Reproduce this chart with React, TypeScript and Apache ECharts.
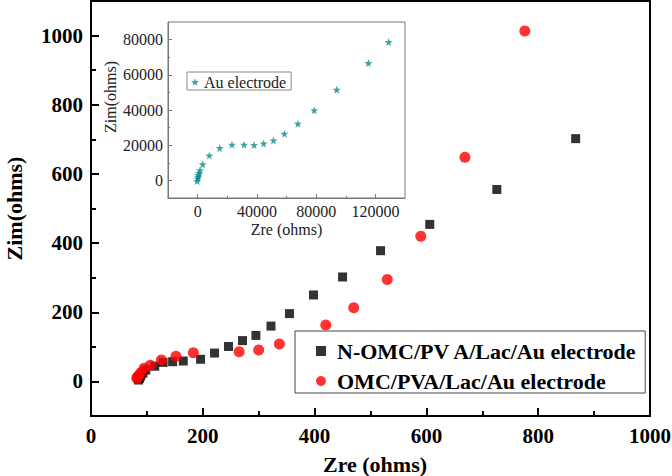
import React, { useEffect, useRef } from 'react';
import * as echarts from 'echarts';

// Main plot data (Zre, Zim in ohms)
const nomcZre = [85, 87, 89, 93, 98, 114, 129, 146, 165, 196, 221, 246, 271, 295, 322, 355, 398, 450, 518, 606, 726, 867];
const nomcZim = [4, 9, 16, 24, 33, 44, 55, 57, 59, 64, 82, 101, 118, 133, 160, 196, 250, 302, 378, 454, 555, 702];
const omcZre = [82, 83, 85, 89, 95, 106, 126, 152, 183, 265, 300, 337, 420, 470, 530, 590, 669, 776];
const omcZim = [9, 12, 16, 25, 38, 47, 62, 73, 83, 86, 91, 108, 163, 213, 295, 420, 648, 1013];

// Inset data (Au electrode)
const auZre = [-300, 0, 300, 500, 1000, 1600, 3400, 7900, 14900, 23200, 31400, 38100, 44600, 51200, 58600, 67700, 78700, 93900, 115300, 129000];
const auZim = [-400, 1000, 2000, 3000, 4200, 5700, 9100, 14200, 18400, 20300, 20300, 20100, 21000, 22700, 26500, 32200, 39800, 51500, 66700, 78600];

// Tick values
const mainYTicks = [0, 200, 400, 600, 800, 1000];
const mainYMinor = [100, 300, 500, 700, 900];
const insetXTicks = [0, 40000, 80000, 120000];
const insetXMinor = [20000, 60000, 100000];
const insetYTicks = [0, 20000, 40000, 60000, 80000];
const insetYMinor = [10000, 30000, 50000, 70000];

const nameNOMC = 'N-OMC/PV A/Lac/Au electrode';
const nameOMC = 'OMC/PVA/Lac/Au electrode';
const nameAu = 'Au electrode';

const serif = 'Liberation Serif';
const starPath = 'path://M0,-10 L2.35,-3.24 L9.51,-3.09 L3.8,1.24 L5.88,8.09 L0,4 L-5.88,8.09 L-3.8,1.24 L-9.51,-3.09 L-2.35,-3.24 Z';

function pairs(xs: number[], ys: number[]) {
  return xs.map((x, i) => [x, ys[i]]);
}
const plain = (v: number) => String(v);

export default function App() {
  const ref = useRef<HTMLDivElement>(null);
  useEffect(() => {
    if (!ref.current) return;
    const chart = echarts.init(ref.current, undefined, { renderer: 'svg' });
    const mainLabel = { color: '#000', fontFamily: serif, fontSize: 21, fontWeight: 'bold' as const, formatter: plain };
    const insetLabel = { color: '#222', fontFamily: serif, fontSize: 16 };
    const insetLine = { color: '#777', width: 1 };
    const option: any = {
      animation: false,
      backgroundColor: '#fff',
      grid: [
        { left: 91, right: 22, top: 1, bottom: 60, show: true, borderColor: '#000', borderWidth: 2, backgroundColor: 'transparent', containLabel: false, outerBoundsMode: 'none' },
        { left: 168, right: 267, top: 22, bottom: 278, show: true, borderColor: '#777', borderWidth: 1, backgroundColor: '#fff', containLabel: false, outerBoundsMode: 'none' },
      ],
      xAxis: [
        {
          gridIndex: 0, type: 'value', position: 'bottom', min: 0, max: 1000, interval: 200,
          axisLine: { onZero: false, lineStyle: { color: '#000', width: 2 } },
          axisTick: { inside: true, length: 8, lineStyle: { color: '#000', width: 2 } },
          minorTick: { show: true, splitNumber: 2, length: 5, lineStyle: { color: '#000', width: 2 } },
          axisLabel: { ...mainLabel, margin: 9 },
          splitLine: { show: false },
          name: 'Zre (ohms)', nameLocation: 'middle', nameGap: 37,
          nameTextStyle: { color: '#000', fontFamily: serif, fontSize: 22, fontWeight: 'bold', padding: [0, 0, 0, 9] },
        },
        {
          gridIndex: 1, type: 'value', position: 'bottom', min: -20000, max: 140000,
          axisLine: { onZero: false, lineStyle: insetLine },
          axisTick: { inside: true, length: 4, customValues: insetXTicks, lineStyle: insetLine },
          axisLabel: { ...insetLabel, margin: 5, customValues: insetXTicks, formatter: plain },
          splitLine: { show: false },
          name: 'Zre (ohms)', nameLocation: 'middle', nameGap: 23,
          nameTextStyle: { ...insetLabel },
        },
        {
          gridIndex: 1, type: 'value', position: 'bottom', min: -20000, max: 140000,
          axisLine: { show: false, onZero: false },
          axisTick: { inside: true, length: 2, customValues: insetXMinor, lineStyle: insetLine },
          axisLabel: { show: false },
          splitLine: { show: false },
        },
      ],
      yAxis: [
        {
          gridIndex: 0, type: 'value', position: 'left', min: -100, max: 1100,
          axisLine: { onZero: false, lineStyle: { color: '#000', width: 2 } },
          axisTick: { inside: true, length: 8, customValues: mainYTicks, lineStyle: { color: '#000', width: 2 } },
          axisLabel: { ...mainLabel, margin: 8, customValues: mainYTicks },
          splitLine: { show: false },
          name: 'Zim(ohms)', nameLocation: 'middle', nameGap: 66,
          nameTextStyle: { color: '#000', fontFamily: serif, fontSize: 22, fontWeight: 'bold' },
        },
        {
          gridIndex: 0, type: 'value', position: 'left', min: -100, max: 1100,
          axisLine: { show: false, onZero: false },
          axisTick: { inside: true, length: 5, customValues: mainYMinor, lineStyle: { color: '#000', width: 2 } },
          axisLabel: { show: false },
          splitLine: { show: false },
        },
        {
          gridIndex: 1, type: 'value', position: 'left', min: -10000, max: 90000,
          axisLine: { onZero: false, lineStyle: insetLine },
          axisTick: { inside: true, length: 4, customValues: insetYTicks, lineStyle: insetLine },
          axisLabel: { ...insetLabel, margin: 5, customValues: insetYTicks, formatter: plain },
          splitLine: { show: false },
          name: 'Zim(ohms)', nameLocation: 'middle', nameGap: 50,
          nameTextStyle: { ...insetLabel, padding: [0, 0, 0, 26] },
        },
        {
          gridIndex: 1, type: 'value', position: 'left', min: -10000, max: 90000,
          axisLine: { show: false, onZero: false },
          axisTick: { inside: true, length: 2, customValues: insetYMinor, lineStyle: insetLine },
          axisLabel: { show: false },
          splitLine: { show: false },
        },
      ],
      legend: [
        {
          orient: 'vertical', left: 295, top: 331,
          padding: [9, 8, 1, 21], itemGap: 8, itemWidth: 10, itemHeight: 10,
          backgroundColor: '#fff', borderColor: '#444', borderWidth: 1,
          textStyle: { color: '#000', fontFamily: serif, fontSize: 22, fontWeight: 'bold', padding: [0, 0, 0, 6] },
          data: [nameNOMC, nameOMC],
        },
        {
          orient: 'vertical', left: 187, top: 72,
          padding: [2, 5, 0, 4], itemWidth: 8, itemHeight: 8,
          backgroundColor: '#fff', borderColor: '#888', borderWidth: 1,
          textStyle: { color: '#222', fontFamily: serif, fontSize: 16 },
          data: [nameAu],
        },
      ],
      series: [
        {
          name: nameNOMC, type: 'scatter', xAxisIndex: 0, yAxisIndex: 0,
          symbol: 'rect', symbolSize: 9, itemStyle: { color: '#000' },
          data: pairs(nomcZre, nomcZim),
        },
        {
          name: nameOMC, type: 'scatter', xAxisIndex: 0, yAxisIndex: 0,
          symbol: 'circle', symbolSize: 11, itemStyle: { color: '#ff0000' },
          data: pairs(omcZre, omcZim),
        },
        {
          name: nameAu, type: 'scatter', xAxisIndex: 1, yAxisIndex: 2,
          symbol: starPath, symbolSize: 8, itemStyle: { color: '#0f8b8d' },
          data: pairs(auZre, auZim),
        },
      ],
    };
    chart.setOption(option);
    return () => chart.dispose();
  }, []);
  return <div ref={ref} style={{ position: 'fixed', left: 0, top: 0, width: 672, height: 476 }} />;
}
